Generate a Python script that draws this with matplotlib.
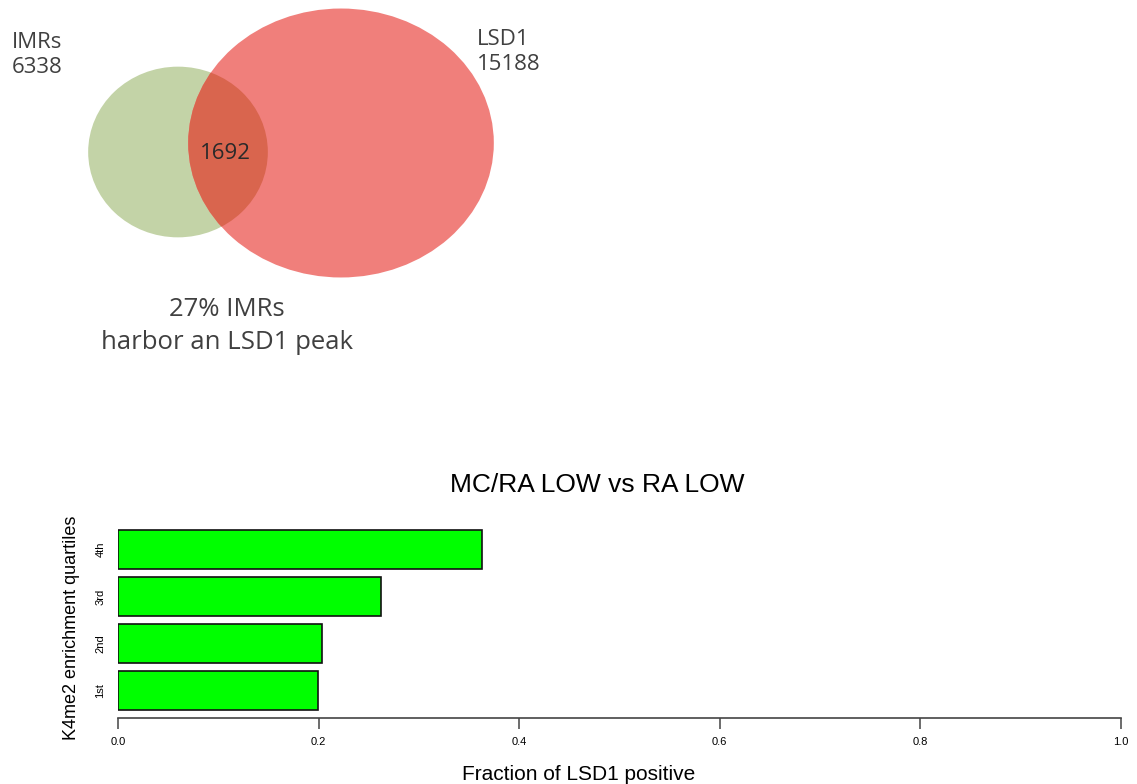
import numpy as np
import matplotlib
matplotlib.use("Agg")
import matplotlib.pyplot as plt
from matplotlib.patches import Ellipse

# Venn counts
imr_total = 6338
lsd1_total = 15188
overlap = 1692
pct_text = "27% IMRs\nharbor an LSD1 peak"

# Bar chart data
quartiles = ["1st", "2nd", "3rd", "4th"]
fraction_pos = [0.199, 0.203, 0.262, 0.363]
x_ticks = [0.0, 0.2, 0.4, 0.6, 0.8, 1.0]

W, H = 1137, 784
fig = plt.figure(figsize=(W / 100, H / 100), dpi=100)

# ---- Venn diagram (pixel coordinate overlay) ----
venn = fig.add_axes([0, 0, 1, 1])
venn.set_xlim(0, W)
venn.set_ylim(H, 0)
venn.axis("off")

scale = 1.24  # px per sqrt(count)
r_imr = scale * np.sqrt(imr_total) * 0.91
r_lsd = scale * np.sqrt(lsd1_total)
aspect = 0.88  # circles appear slightly squashed vertically

green = Ellipse((178, 152), 2 * r_imr, 2 * r_imr * 0.95, facecolor="#c3d3a7", edgecolor="none")
red = Ellipse((341, 143), 2 * r_lsd, 2 * r_lsd * aspect, facecolor="#f07f7b", edgecolor="none")
venn.add_patch(green)
venn.add_patch(red)
inter = Ellipse((178, 152), 2 * r_imr, 2 * r_imr * 0.95, facecolor="#d9654e", edgecolor="none")
venn.add_patch(inter)
inter.set_clip_path(red)

vfont = ["Open Sans", "DejaVu Sans"]
tcol = "#404040"
venn.text(12, 55, f"IMRs\n{imr_total}", fontsize=16, color=tcol, family=vfont,
          va="center", ha="left", linespacing=1.3)
venn.text(477, 52, f"LSD1\n{lsd1_total}", fontsize=16, color=tcol, family=vfont,
          va="center", ha="left", linespacing=1.3)
venn.text(225, 153, f"{overlap}", fontsize=16, color="#2a2a2a", family=vfont,
          va="center", ha="center")
venn.text(227, 326, pct_text, fontsize=18.5, color=tcol, family=vfont,
          va="center", ha="center", linespacing=1.45)

# ---- Bar chart ----
ax_l, ax_r = 118 / W, 1121 / W
ax_b, ax_t = 1 - 718 / H, 1 - 523 / H
ax = fig.add_axes([ax_l, ax_b, ax_r - ax_l, ax_t - ax_b])
ypos = [0.7 + 1.2 * i for i in range(len(quartiles))]
ax.barh(ypos, fraction_pos, height=1.0, color="#00ff00", edgecolor="#111111", linewidth=1.2)
ax.set_xlim(0, 1.0)
ax.set_ylim(0, 4.98)
for s in ["top", "right", "left"]:
    ax.spines[s].set_visible(False)
ax.spines["bottom"].set_color("#444444")
ax.spines["bottom"].set_linewidth(1.2)
ax.set_xticks(x_ticks)
ax.set_xticklabels([f"{t:.1f}" for t in x_ticks])
ax.tick_params(axis="x", length=8, width=1.1, color="#444444", pad=6, labelsize=8)
ax.set_yticks(ypos)
ax.set_yticklabels(quartiles, rotation=90, va="center")
ax.tick_params(axis="y", length=0, pad=9, labelsize=8)
for lab in ax.get_xticklabels() + ax.get_yticklabels():
    lab.set_family(["Liberation Sans Narrow", "Liberation Sans", "DejaVu Sans"])

lfont = ["Liberation Sans", "DejaVu Sans"]
ax.set_title("MC/RA LOW vs RA LOW", fontsize=19, family=lfont, pad=22,
             x=(597 - 118) / (1121 - 118))
fig.text(579 / W, 1 - 780 / H, "Fraction of LSD1 positive", fontsize=15, family=lfont,
         ha="center", va="baseline")
fig.text(80 / W, 1 - 628 / H, "K4me2 enrichment quartiles", fontsize=13, family=lfont,
         rotation=90, ha="right", va="center")

fig.savefig("out.png", dpi=100)
